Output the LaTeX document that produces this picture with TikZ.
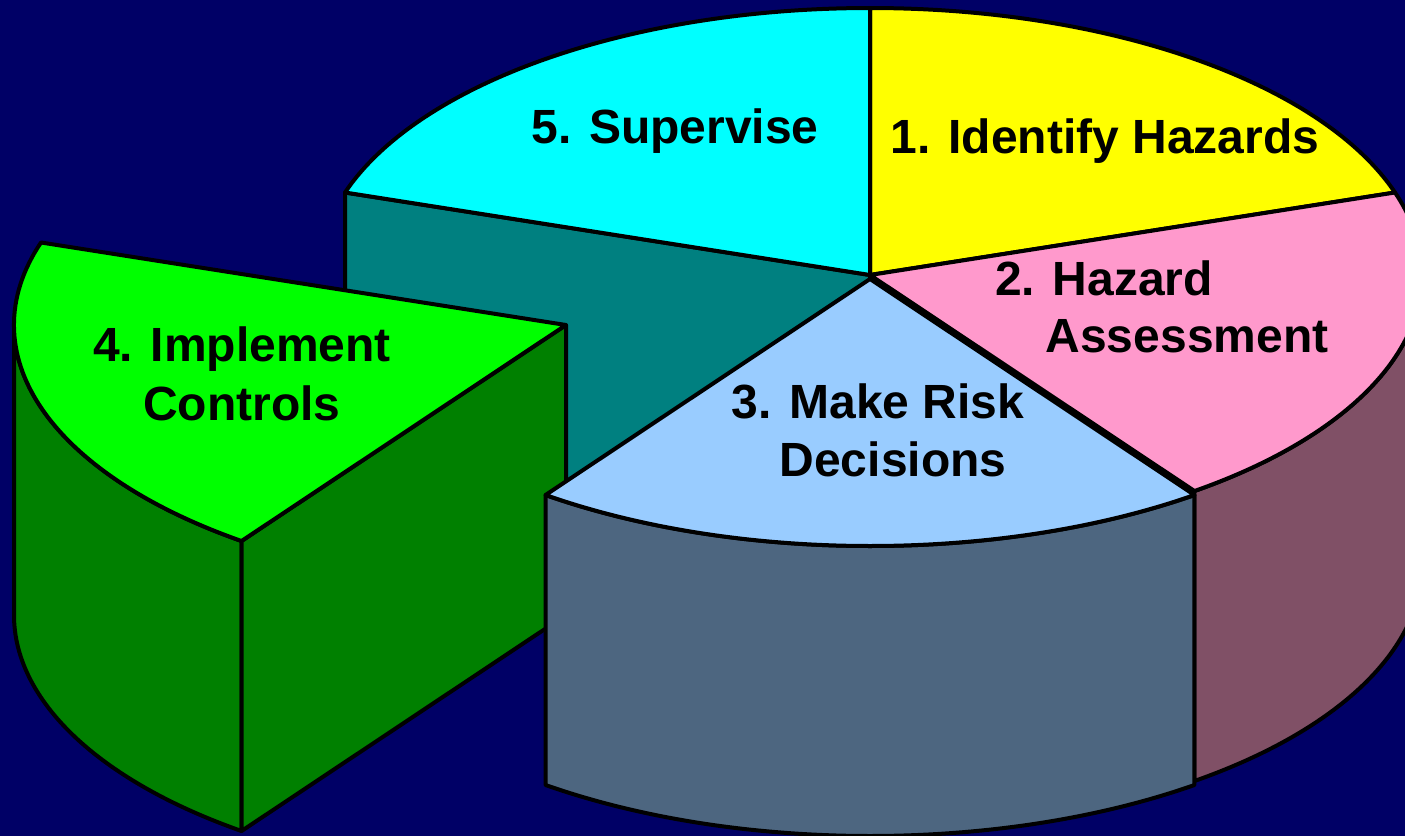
\documentclass[tikz,border=0pt]{standalone}
\usepackage{fontspec}
\setmainfont{Liberation Sans}
\usetikzlibrary{calc}

\definecolor{bgnavy}{RGB}{0,0,102}
\definecolor{yellowtop}{RGB}{255,255,0}
\definecolor{pinktop}{RGB}{255,153,204}
\definecolor{pinkside}{RGB}{128,80,102}
\definecolor{bluetop}{RGB}{153,204,255}
\definecolor{blueside}{RGB}{77,102,128}
\definecolor{greentop}{RGB}{0,255,0}
\definecolor{greenside}{RGB}{0,128,0}
\definecolor{cyantop}{RGB}{0,255,255}
\definecolor{tealside}{RGB}{0,128,128}

\tikzset{every picture/.style={line width=2pt}}
\tikzset{
	slice/.style={draw=black, line join=round},
	rim/.style={x radius=552, y radius=267},
	pielabel/.style={font=\fontsize{24}{29}\selectfont\bfseries, anchor=base, inner sep=0pt}}

\begin{document}
\begin{tikzpicture}[x=0.5pt,y=0.5pt,yscale=-1]
	\useasboundingbox (0,0) rectangle (1405,836);
	\fill[bgnavy] (0,0) rectangle (1405,836);
	\clip (0,0) rectangle (1405,836);

	%Centres: whole pie, slice 3 (pulled a little), slice 4 (pulled out)
	\coordinate (ctr) at (870,275);
	\coordinate (ctrR) at (870,279);
	\coordinate (ctrI) at (566,325);

	%Shape: cut face of slice 5
	\draw[slice, fill=tealside] (ctr) -- ($(ctr)+(198:552 and 267)$) -- ++(0,290) -- ($(ctr)+(0,290)$) -- cycle;
	%Shape: outer side of slice 2
	\draw[slice, fill=pinkside] ($(ctr)+(0:552 and 267)$) arc[rim, start angle=0, end angle=54] -- ++(0,290) arc[rim, start angle=54, end angle=0] -- cycle;

	%Shape: top of slice 1
	\draw[slice, fill=yellowtop] (ctr) -- ($(ctr)+(-90:552 and 267)$) arc[rim, start angle=-90, end angle=-18] -- cycle;
	%Shape: top of slice 2
	\draw[slice, fill=pinktop] (ctr) -- ($(ctr)+(-18:552 and 267)$) arc[rim, start angle=-18, end angle=54] -- cycle;
	%Shape: top of slice 5
	\draw[slice, fill=cyantop] (ctr) -- ($(ctr)+(198:552 and 267)$) arc[rim, start angle=198, end angle=270] -- cycle;

	%Shape: slice 4, outer side
	\draw[slice, fill=greenside] ($(ctrI)+(126:552 and 267)$) arc[rim, start angle=126, end angle=180] -- ++(0,290) arc[rim, start angle=180, end angle=126] -- cycle;
	%Shape: slice 4, cut face
	\draw[slice, fill=greenside] (ctrI) -- ($(ctrI)+(126:552 and 267)$) -- ++(0,290) -- ($(ctrI)+(0,290)$) -- cycle;
	%Shape: slice 4, top
	\draw[slice, fill=greentop] (ctrI) -- ($(ctrI)+(126:552 and 267)$) arc[rim, start angle=126, end angle=198] -- cycle;

	%Shape: slice 3, outer side
	\draw[slice, fill=blueside] ($(ctrR)+(54:552 and 267)$) arc[rim, start angle=54, end angle=126] -- ++(0,290) arc[rim, start angle=126, end angle=54] -- cycle;
	%Shape: slice 3, top
	\draw[slice, fill=bluetop] (ctrR) -- ($(ctrR)+(54:552 and 267)$) arc[rim, start angle=54, end angle=126] -- cycle;

	% Text Node
	\draw (1105,153) node[pielabel] (identify) {1. Identify Hazards};
	% Text Node
	\draw (1104,295) node[pielabel] (hazard) {2. Hazard};
	% Text Node
	\draw (1187,352) node[pielabel] (assess) {Assessment};
	% Text Node
	\draw (878,418) node[pielabel] (makerisk) {3. Make Risk};
	% Text Node
	\draw (893,476) node[pielabel] (decide) {Decisions};
	% Text Node
	\draw (242,361) node[pielabel] (implement) {4. Implement};
	% Text Node
	\draw (242,420) node[pielabel] (controls) {Controls};
	% Text Node
	\draw (675,143) node[pielabel] (supervise) {5. Supervise};

\end{tikzpicture}
\end{document}
